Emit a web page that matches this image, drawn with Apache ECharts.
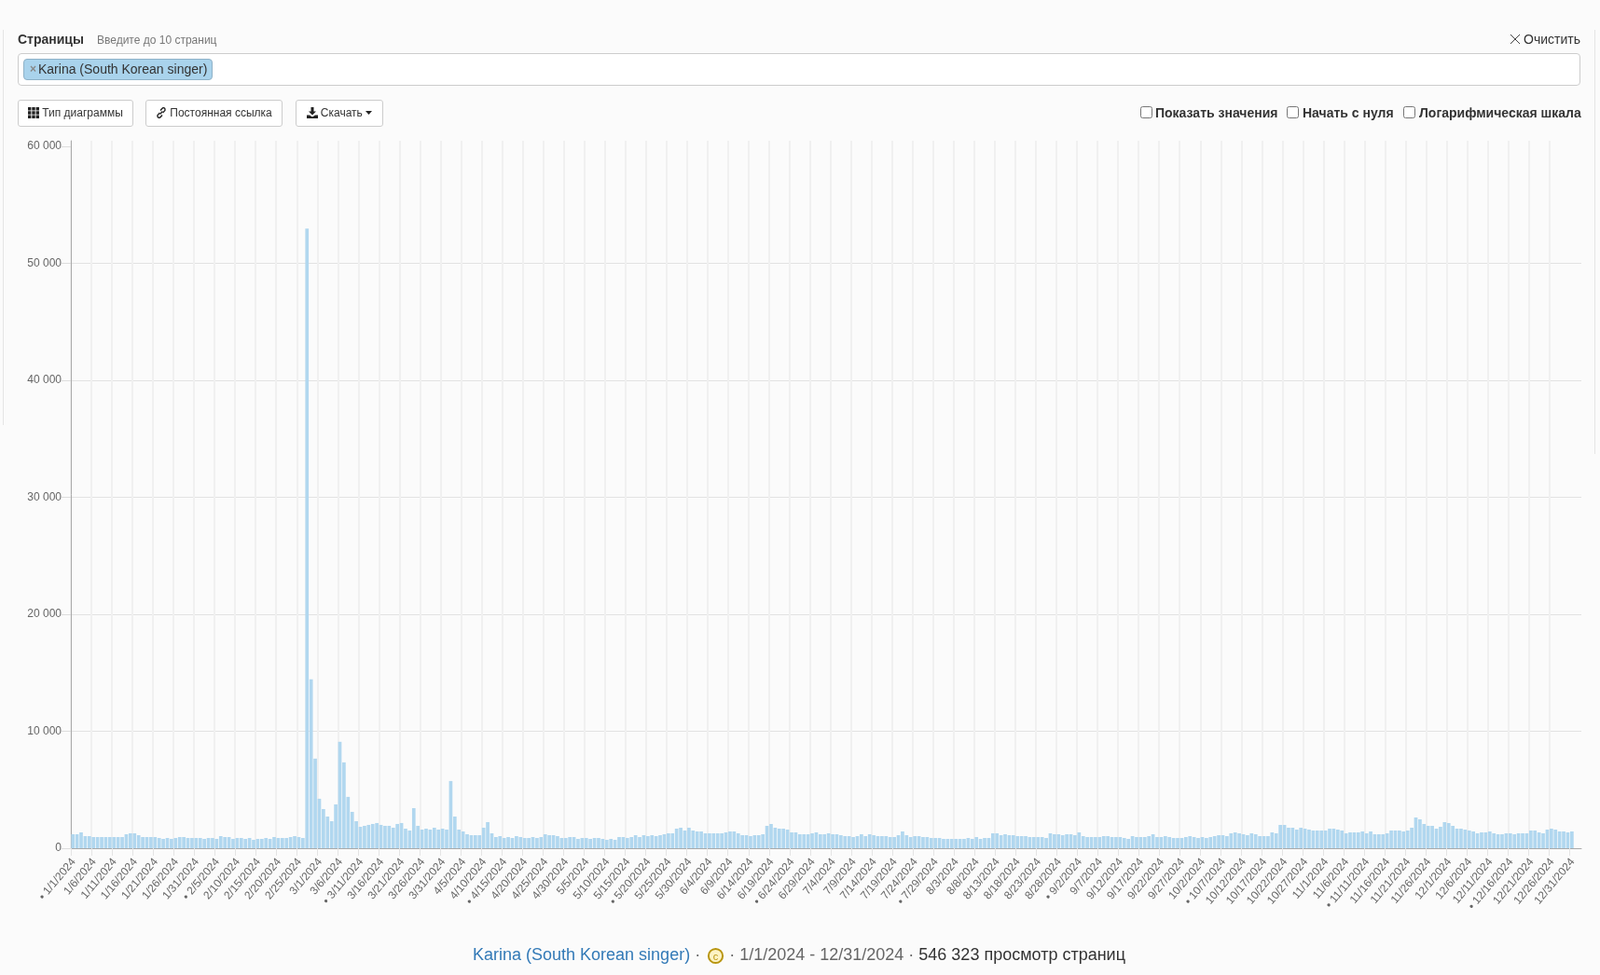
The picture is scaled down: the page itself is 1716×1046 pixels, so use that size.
<!DOCTYPE html>
<html lang="ru">
<head>
<meta charset="utf-8">
<title>Karina (South Korean singer)</title>
<script src="https://cdn.jsdelivr.net/npm/echarts@6/dist/echarts.min.js"></script>
<style>
html,body{margin:0;padding:0;background:#fbfbfb;width:1716px;height:1046px;overflow:hidden;font-family:"Liberation Sans",Arial,sans-serif;color:#333}
#chart{position:absolute;left:0;top:0;width:1716px;height:1046px}
.a{position:absolute;white-space:nowrap}
.rule{position:absolute;width:1px;background:#e4e4e4}
.box{position:absolute;left:19px;top:57px;width:1674px;height:33px;background:#fff;border:1px solid #ccc;border-radius:4px;box-sizing:content-box}
.token{position:absolute;left:25px;top:63px;width:201px;height:21px;background:#a9d3ec;border:1px solid #8fb2c8;border-radius:4px;font-size:14px;line-height:21px}
.btn{position:absolute;top:107px;height:29px;box-sizing:border-box;background:#fff;border:1px solid #ccc;border-radius:3px;font-size:12px;line-height:27px;text-align:center;color:#333}
.btn svg{vertical-align:-2px;margin-right:3px}
.cb{position:absolute;top:114px;width:11px;height:11px;border:1px solid #767676;border-radius:2.5px;background:#fff}
.lbl{font-size:14px;font-weight:bold;top:113px;line-height:16px;color:#333}
</style>
</head>
<body>
<div id="chart"></div>
<div class="rule" style="left:3px;top:32px;height:424px"></div>
<div class="rule" style="left:1710px;top:32px;height:455px"></div>

<div class="a" style="left:19px;top:34px;font-size:14px;font-weight:bold;line-height:16px">Страницы</div>
<div class="a" style="left:104px;top:35px;font-size:12px;line-height:16px;color:#777">Введите до 10 страниц</div>
<svg class="a" style="left:1619px;top:36px" width="12" height="12" viewBox="0 0 12 12"><path d="M1 1L11 11M11 1L1 11" stroke="#444" stroke-width="1" fill="none"/></svg>
<div class="a" style="left:1634px;top:34px;font-size:14px;line-height:16px">Очистить</div>

<div class="box"></div>
<div class="token"><span class="a" style="left:6px;top:0;color:#888;font-size:12px;font-weight:bold">×</span><span class="a" style="left:15px;top:0;color:#333">Karina (South Korean singer)</span></div>

<div class="btn" style="left:19px;width:124px"><svg width="12" height="12" viewBox="0 0 12 12" fill="#222"><path d="M0 0h3.4v3.4H0zM4.3 0h3.4v3.4H4.3zM8.6 0H12v3.4H8.6zM0 4.3h3.4v3.4H0zM4.3 4.3h3.4v3.4H4.3zM8.6 4.3H12v3.4H8.6zM0 8.6h3.4V12H0zM4.3 8.6h3.4V12H4.3zM8.6 8.6H12V12H8.6z"/></svg>Тип диаграммы</div>
<div class="btn" style="left:156px;width:147px"><svg width="12" height="12" viewBox="0 0 12 12" fill="none" stroke="#222" stroke-width="1.4"><path d="M5 3.5l2-2.2a1.7 1.7 0 0 1 3 .9c.2.6 0 1.2-.5 1.7L7.6 6"/><path d="M7 8.5l-2 2.2a1.7 1.7 0 0 1-3-.9c-.2-.6 0-1.2.5-1.7L4.4 6"/><path d="M4.6 7.4L7.4 4.6"/></svg>Постоянная ссылка</div>
<div class="btn" style="left:317px;width:94px"><svg width="12" height="12" viewBox="0 0 12 12" fill="#222"><path d="M4.5 0h3v4.5h2.5L6 8.5 2 4.5h2.5zM0 8.5h3L6 10.5l3-2h3V12H0z"/></svg>Скачать <svg width="7" height="4" viewBox="0 0 7 4" fill="#222" style="margin:0 0 1px 0;vertical-align:1px"><path d="M0 0h7L3.5 4z"/></svg></div>

<div class="cb" style="left:1223px"></div>
<div class="a lbl" style="left:1239px">Показать значения</div>
<div class="cb" style="left:1380px"></div>
<div class="a lbl" style="left:1397px">Начать с нуля</div>
<div class="cb" style="left:1505px"></div>
<div class="a lbl" style="left:1522px">Логарифмическая шкала</div>

<div class="a" id="footer" style="left:507px;top:1013px;font-size:18px;line-height:22px;color:#333"><span style="color:#337ab7">Karina (South Korean singer)</span> <span style="color:#666">·</span> <svg width="19" height="19" viewBox="0 0 19 19" style="vertical-align:-5px;margin:0 0 0 2px"><circle cx="9.5" cy="9.5" r="7.6" fill="#fdf3c4" stroke="#b8950f" stroke-width="2"/><text x="9.5" y="13.5" text-anchor="middle" font-size="11" fill="#b8950f" font-family="Liberation Sans">c</text></svg> <span style="color:#666">· 1/1/2024 - 12/31/2024 ·</span> 546 323 просмотр страниц</div>

<script>
const jan=[1196,1196,1355,1036,1036,957,957,957,957,957,957,957,957,1196,1275,1275,1116,957,957,957,957,877,797,877,797,877,957,957,877,877,877];
const feb=[877,797,877,877,797,1036,957,957,797,877,877,797,877,717,797,797,877,797,957,877,877,877,957,1036,957,877,52960,14450,7660];
const mar=[4230,3350,2710,2310,3750,9100,7340,4390,3110,2310,1835,1915,1995,2075,2155,1995,1915,1915,1755,2075,2155,1675,1515,3430,1915,1595,1675,1595,1755,1595,1675];
const apr=[1595,5745,2710,1595,1435,1197,1117,1117,1117,1755,2234,1277,958,1037,878,958,877,1036,957,877,877,957,877,957,1196,1116,1116,1036,877,877];
const may=[957,957,797,877,877,797,877,877,797,717,797,717,957,957,877,957,1116,957,1116,1036,1116,1036,1116,1196,1275,1275,1674,1754,1514,1754,1514];
const jun=[1435,1435,1275,1275,1275,1275,1275,1355,1435,1435,1275,1116,1116,1036,1116,1116,1196,1913,2072,1754,1674,1674,1594,1355,1355,1196,1196,1196,1275,1355];
const jul=[1196,1196,1275,1196,1196,1116,1036,1036,957,1036,1196,1036,1196,1116,1036,1036,1036,957,957,1116,1435,1116,957,1036,1036,957,957,877,877,877,797];
const aug=[797,797,797,797,797,877,797,957,797,877,877,1275,1275,1116,1196,1116,1116,1036,1036,1036,957,957,957,957,877,1275,1196,1196,1116,1196,1196];
const sep=[1116,1355,1036,957,957,957,957,1036,1036,957,957,957,877,797,1036,957,957,957,1036,1196,957,957,1036,957,877,877,877,957,1036,957];
const oct=[877,957,877,957,1036,1116,1116,1036,1275,1355,1275,1196,1116,1275,1196,1036,1036,1036,1355,1275,1993,1993,1754,1754,1594,1754,1674,1594,1514,1514,1514];
const nov=[1514,1674,1674,1594,1514,1275,1355,1355,1355,1435,1275,1435,1196,1196,1196,1275,1514,1514,1514,1435,1514,1754,2630,2471,2072,1913,1913,1674,1833,2232];
const dec=[2152,1913,1674,1674,1594,1514,1435,1275,1355,1355,1435,1275,1196,1196,1275,1275,1196,1275,1275,1275,1514,1514,1355,1275,1594,1674,1594,1435,1435,1355,1435];

const dayTickLabels=['• 1/1/2024','1/6/2024','1/11/2024','1/16/2024','1/21/2024','1/26/2024','1/31/2024','• 2/5/2024','2/10/2024','2/15/2024','2/20/2024','2/25/2024','3/1/2024','3/6/2024','• 3/11/2024','3/16/2024','3/21/2024','3/26/2024','3/31/2024','4/5/2024','4/10/2024','• 4/15/2024','4/20/2024','4/25/2024','4/30/2024','5/5/2024','5/10/2024','5/15/2024','• 5/20/2024','5/25/2024','5/30/2024','6/4/2024','6/9/2024','6/14/2024','6/19/2024','• 6/24/2024','6/29/2024','7/4/2024','7/9/2024','7/14/2024','7/19/2024','7/24/2024','• 7/29/2024','8/3/2024','8/8/2024','8/13/2024','8/18/2024','8/23/2024','8/28/2024','• 9/2/2024','9/7/2024','9/12/2024','9/17/2024','9/22/2024','9/27/2024','10/2/2024','• 10/7/2024','10/12/2024','10/17/2024','10/22/2024','10/27/2024','11/1/2024','11/6/2024','• 11/11/2024','11/16/2024','11/21/2024','11/26/2024','12/1/2024','12/6/2024','12/11/2024','• 12/16/2024','12/21/2024','12/26/2024','12/31/2024'];
const valueTicks=[0,10000,20000,30000,40000,50000,60000];

const views=[].concat(jan,feb,mar,apr,may,jun,jul,aug,sep,oct,nov,dec);
const tickDays=dayTickLabels.map((_,k)=>k*5);
const font='"Liberation Sans",Arial,sans-serif';

const chart=echarts.init(document.getElementById('chart'),null,{renderer:'canvas'});
chart.setOption({
  animation:false,
  backgroundColor:'transparent',
  grid:{left:76,top:151,width:1620,height:759,containLabel:false},
  xAxis:{
    type:'value',min:0,max:367.8,interval:5,
    axisLine:{show:true,onZero:false,lineStyle:{color:'#aaaaaa',width:1}},
    axisTick:{show:true,length:8,customValues:tickDays,lineStyle:{color:'#e4e4e4',width:1}},
    axisLabel:{show:true,rotate:50,margin:10,verticalAlign:'top',lineHeight:8,fontSize:12,color:'#666',fontFamily:font,
      customValues:tickDays,hideOverlap:false,showMinLabel:true,showMaxLabel:true,
      formatter:v=>dayTickLabels[Math.round(v/5)]||''},
    splitLine:{show:true,showMaxLine:false,lineStyle:{color:'#f0f0f0',width:2}}
  },
  yAxis:{
    type:'value',min:0,max:60478,interval:10000,
    axisLine:{show:true,lineStyle:{color:'#aaaaaa',width:1}},
    axisTick:{show:true,length:10,customValues:valueTicks,lineStyle:{color:'#dddddd'}},
    axisLabel:{margin:10,fontSize:12,color:'#666',fontFamily:font,customValues:valueTicks,
      formatter:v=>String(v).replace(/\B(?=(\d{3})+$)/g,' ')},
    splitLine:{show:true,showMaxLine:false,lineStyle:{color:'#e2e2e2',width:1}}
  },
  series:[{
    type:'bar',barWidth:3.7,
    itemStyle:{color:'#b1d7ef'},
    data:views.map((v,i)=>[i+0.5,v])
  }]
});
</script>
</body>
</html>
